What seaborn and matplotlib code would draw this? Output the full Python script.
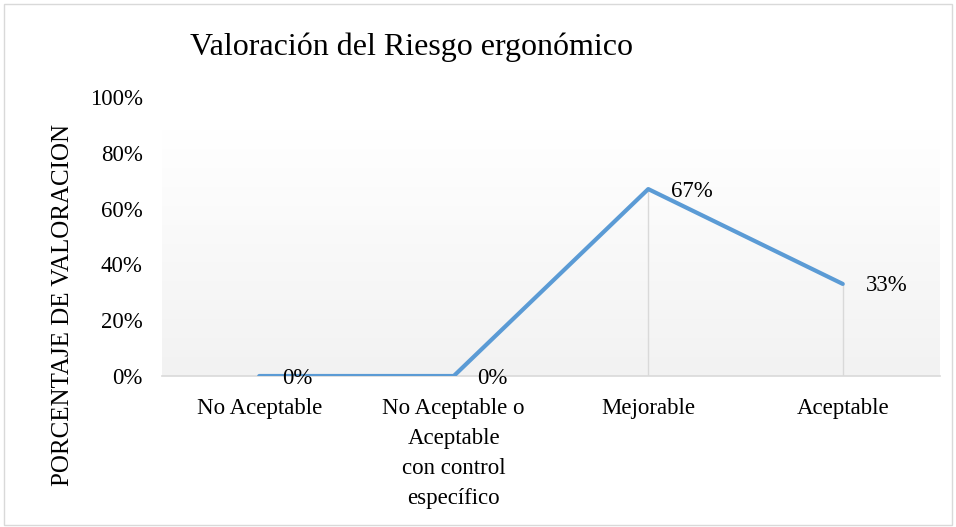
import numpy as np
import pandas as pd
import matplotlib
matplotlib.use("Agg")
import matplotlib.pyplot as plt
import matplotlib.patches as mpatches
import seaborn as sns

# data
categorias = ["No Aceptable", "No Aceptable o\nAceptable\ncon control\nespecífico",
              "Mejorable", "Aceptable"]
porcentajes = [0.0, 0.0, 0.67, 0.33]
etiquetas = ["0%", "0%", "67%", "33%"]
ticks_y = [0.0, 0.2, 0.4, 0.6, 0.8, 1.0]
ticks_y_txt = ["0%", "20%", "40%", "60%", "80%", "100%"]

sns.set_theme(style="white")
plt.rcParams["font.family"] = ["Liberation Serif", "DejaVu Serif"]

df = pd.DataFrame({"pos": np.arange(len(categorias)), "valor": porcentajes})

fig = plt.figure(figsize=(9.56, 5.27), dpi=100)
ax = fig.add_axes([162 / 956, 1 - 376 / 527, 778 / 956, 279 / 527])

# gradient background of the plot area (white on top, light grey at bottom)
grad = np.linspace(1.0, 0.0, 256).reshape(-1, 1)
ax.imshow(grad, extent=(-0.5, 3.5, 0, 0.88), aspect="auto",
          cmap=matplotlib.colors.LinearSegmentedColormap.from_list("g", ["#F2F2F2", "#FFFFFF"]),
          vmin=0, vmax=1, zorder=0)

# drop lines
ax.vlines(df["pos"], 0, df["valor"], color="#D9D9D9", lw=1.0, zorder=1)

sns.lineplot(data=df, x="pos", y="valor", ax=ax, color="#5B9BD5", lw=3.0,
             zorder=3, legend=False)

for x, y, t in zip(df["pos"], df["valor"], etiquetas):
    ax.annotate(t, (x, y), xytext=(23, -2), textcoords="offset pixels",
                ha="left", va="center", fontsize=16.5, color="black", zorder=4)

ax.set_xlim(-0.5, 3.5)
ax.set_ylim(0, 1)
ax.set_xticks(df["pos"])
ax.set_xticklabels(categorias, fontsize=16.5, linespacing=1.55)
ax.set_yticks(ticks_y)
ax.set_yticklabels(ticks_y_txt, fontsize=16.5)
ax.tick_params(axis="both", length=0, colors="black")
ax.tick_params(axis="x", pad=16)
ax.tick_params(axis="y", pad=14)
ax.set_xlabel("")
ax.set_ylabel("")
for s in ["top", "right", "left"]:
    ax.spines[s].set_visible(False)
ax.spines["bottom"].set_color("#D9D9D9")
ax.spines["bottom"].set_linewidth(1.2)
ax.set_facecolor("white")

fig.text(63 / 956, 1 - 305 / 527, "PORCENTAJE DE VALORACION", rotation=90,
         ha="center", va="center", fontsize=18, color="black")
fig.text(190 / 956, 1 - 47 / 527, "Valoración del Riesgo ergonómico",
         ha="left", va="center", fontsize=23, color="black")

fig.patches.append(mpatches.Rectangle((0.004, 0.004), 0.992, 0.988, transform=fig.transFigure,
                                      fill=False, edgecolor="#D9D9D9", lw=1.0))

fig.savefig("out.png", dpi=100)
